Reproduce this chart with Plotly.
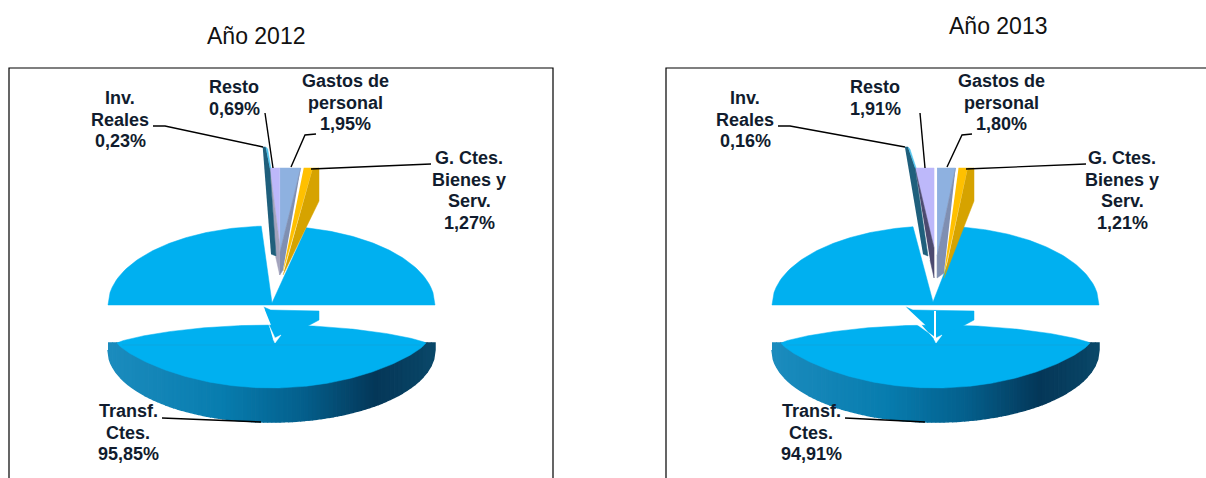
import numpy as np
import plotly.graph_objects as go

YEARS = ["Año 2012", "Año 2013"]
CATEGORIES = ["Transf. Ctes.", "G. Ctes. Bienes y Serv.", "Gastos de personal", "Resto", "Inv. Reales"]
SHARES_2012 = [95.85, 1.27, 1.95, 0.69, 0.23]
SHARES_2013 = [94.91, 1.21, 1.80, 1.91, 0.16]
LABELS_2012 = ["Transf.<br>Ctes.<br>95,85%", "G. Ctes.<br>Bienes y<br>Serv.<br>1,27%",
               "Gastos de<br>personal<br>1,95%", "Resto<br>0,69%", "Inv.<br>Reales<br>0,23%"]
LABELS_2013 = ["Transf.<br>Ctes.<br>94,91%", "G. Ctes.<br>Bienes y<br>Serv.<br>1,21%",
               "Gastos de<br>personal<br>1,80%", "Resto<br>1,91%", "Inv.<br>Reales<br>0,16%"]

BLUE = "#00B0F0"
PX_PER_PCT = 13.6
FAN_TOP = 168
TEXT = "#111C2E"

fig = go.Figure()


def poly(xs, ys, color, w=0.5):
    fig.add_trace(go.Scatter(x=list(xs), y=list(ys), mode="lines", fill="toself", fillcolor=color,
                             line=dict(color=color, width=w), hoverinfo="skip", showlegend=False))


def line(xs, ys, color="#000000", width=1.4):
    fig.add_trace(go.Scatter(x=list(xs), y=list(ys), mode="lines", line=dict(color=color, width=width),
                             hoverinfo="skip", showlegend=False))


def mix(stops, t):
    pos = [s[0] for s in stops]
    rgb = [np.interp(t, pos, [s[1][i] for s in stops]) for i in range(3)]
    return "rgb(%d,%d,%d)" % tuple(rgb)


RIM = [(0.0, (28, 140, 190)), (0.35, (8, 125, 175)), (0.6, (4, 95, 140)), (0.82, (5, 55, 88)), (1.0, (10, 72, 105))]


def pie(shares, cx, apex_x, apex_y, right, notch, tip_y, gap, nudge, inv_foot, resto_side):
    rx = 163.5
    # exploded large slice, upper half
    u = np.linspace(-1, 1, 161)
    xe = cx + rx * u
    ye = 305 - 79 * np.sqrt(1 - u ** 2)
    lm, rm = xe < notch[0], xe > notch[1]
    poly(list(xe[lm]) + [apex_x] + list(xe[rm]) + [cx + rx, cx - rx],
         list(ye[lm]) + [apex_y] + list(ye[rm]) + [305, 305], BLUE)

    # rim of the large slice, lower half
    top_c, rim_c = 343, 350
    edges = np.linspace(-1, 1, 81)
    for a, b in zip(edges[:-1], edges[1:]):
        seg = np.linspace(a, b, 4)
        outer = rim_c + 72 * np.sqrt(1 - seg ** 2)
        poly(list(cx + rx * seg) + list(cx + rx * seg[::-1]), list(outer) + list(np.full(4, top_c)),
             mix(RIM, (a + b + 2) / 4), 1.5)
    # top surface of the lower part
    sr = rx - 9
    poly(list(cx + sr * u) + list(cx + sr * u[::-1]),
         list(top_c - 18 * (1 - u ** 2) ** 0.8) + list(top_c + 45 * (1 - u[::-1] ** 2) ** 0.8), BLUE)
    line([cx - rx + 14, cx + rx - 14], [345, 345], "#0AA6E0", 1)

    # small slices: widths follow the shares, fanned out from the cut
    tops = right - PX_PER_PCT * np.concatenate([[0], np.cumsum(shares[1:])]) + np.array(nudge)
    tg, ta, tr, ti, f = tops

    # fragment that joins both parts
    poly([f + 1, f + 8, right, right, right - 13, apex_x + 3],
         [307, 310, 311, 320, 327, 335], BLUE)
    poly([f + 1, f + 3, apex_x + 3, apex_x + 9, apex_x + 3, apex_x + 1],
         [307, 318, 338, 335, 343, 339], "#FFFFFF")
    if gap:
        line([apex_x + 2, apex_x + 2], [311, 340], "#FFFFFF", 2)

    tip = apex_x + 11
    # G. Ctes. Bienes y Serv.
    mid = ta + (tg - ta) * 0.62
    poly([ta + 1, mid, tip], [FAN_TOP, FAN_TOP, tip_y - 4], "#FFC000")
    poly([mid, tg, tg, tip], [FAN_TOP, FAN_TOP, FAN_TOP + 33, tip_y], "#D6A300")
    # Gastos de personal
    poly([tr + gap, ta - 2, tr + gap], [FAN_TOP, FAN_TOP, tip_y - 22], "#8EB1E0")
    poly([ta - 2, tr + gap, tr + gap, tip], [FAN_TOP, tip_y - 22, tip_y, tip_y - 5], "#7F8FB2")
    # Resto
    poly([ti, tr, tr], [FAN_TOP, FAN_TOP, tip_y - 30], "#BDB8FA")
    poly([ti, tr, tr, tr - 4], [FAN_TOP, tip_y - 30, tip_y, tip_y - 18], resto_side)
    # Inv. Reales
    poly([f, f + 3, ti, inv_foot + 5, inv_foot], [147, 147, FAN_TOP, 256, 254], "#1F5F7C")
    poly([f + 3, f + 5, ti + 1, ti], [147, 149, FAN_TOP, FAN_TOP], "#4CC4EE")


pie(SHARES_2012, 271.5, 272, 303, 319, (263, 305), 275, 0, (0, 1, 4.5, 4, 0), 271, "#A3A3BC")
pie(SHARES_2013, 935.5, 933, 302, 974, (915, 962), 278, 3, (0, 0, 1, 8, 0), 923, "#4C4A70")

# frames
for l, r in ((9, 553), (666, 1207)):
    line([l, l, r, r], [480, 68, 68, 480], "#000000", 1.2)

# leader lines
line([153, 165, 263], [126, 126, 147])
line([265, 273], [113, 168])
line([316, 305, 291], [134, 135, 167])
line([431, 311], [164, 169])
line([162, 261], [418, 422])
line([778, 790, 905], [126, 126, 147])
line([920, 925], [113, 168])
line([972, 962, 947], [134, 135, 167])
line([1086, 966], [164, 169])
line([845, 925], [418, 422])

anns = []
for labels, pos in ((LABELS_2012, [(128, 411), (469, 158), (345, 81), (234, 87), (120, 98)]),
                    (LABELS_2013, [(811, 411), (1122, 158), (1001, 81), (875, 87), (745, 98)])):
    for t, (x, y) in zip(labels, pos):
        for i, row in enumerate(t.split("<br>")):
            anns.append(dict(x=x, y=y + 21.6 * i, text="<b>%s</b>" % row, showarrow=False,
                             xanchor="center", yanchor="middle",
                             font=dict(family="Liberation Sans, Arial", size=18, color=TEXT)))
for t, (x, y) in zip(YEARS, [(256, 36), (998, 26)]):
    anns.append(dict(x=x, y=y, text=t, showarrow=False, xanchor="center", yanchor="middle",
                     font=dict(family="Liberation Sans, Arial", size=23, color="#111111")))

fig.update_layout(width=1206, height=478, autosize=False, margin=dict(l=0, r=0, t=0, b=0),
                  paper_bgcolor="white", plot_bgcolor="white", annotations=anns, showlegend=False,
                  xaxis=dict(range=[0, 1206], visible=False, fixedrange=True),
                  yaxis=dict(range=[478, 0], visible=False, fixedrange=True))
fig.write_html("out.html", config={"displayModeBar": False},
               post_script="document.body.style.margin='0';")
